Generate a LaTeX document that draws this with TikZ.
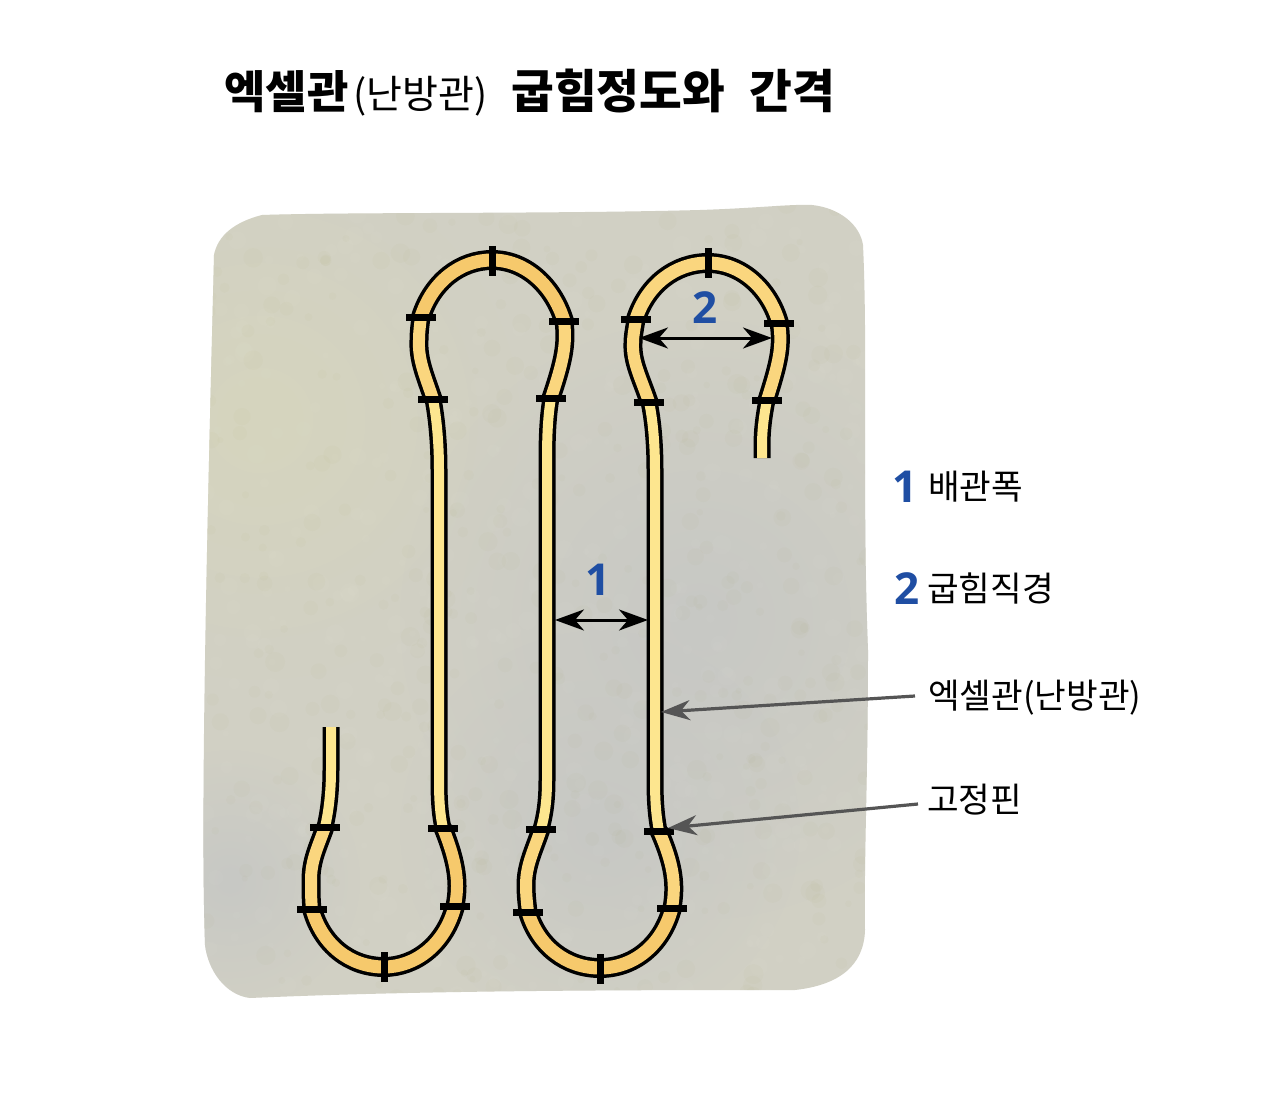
\documentclass[tikz,border=0pt]{standalone}
\usepackage{fontspec}
\setmainfont{Noto Sans CJK KR}
\newfontfamily\titlefont{Noto Sans CJK KR Black}
\newfontfamily\numfont{Open Sans}
\usetikzlibrary{arrows.meta,fadings}
\tikzfading[name=softdisc,inner color=transparent!0,outer color=transparent!100]
\definecolor{blobbase}{HTML}{D1D0C4}
\definecolor{blobdark}{HTML}{C7C8C5}
\definecolor{blobwarm}{HTML}{D6D5BE}
\definecolor{numblue}{HTML}{1F4EA3}
\definecolor{arcfill}{HTML}{F6C96C}
\definecolor{shfill}{HTML}{FAD67E}
\definecolor{strfill}{HTML}{FDE68F}
\definecolor{leadgray}{HTML}{555555}
\tikzset{
  x=1pt,y=-1pt,
  pinmark/.style={black,line width=7pt},
  dimarrow/.style={black,line width=3pt,{Stealth[length=29pt,width=21pt,inset=9pt]}-{Stealth[length=29pt,width=21pt,inset=9pt]}},
  leadarrow/.style={leadgray,line width=3.2pt,-{Stealth[length=29pt,width=20pt,inset=9pt]}},
  label/.style={anchor=west,inner sep=0pt,font=\fontsize{34.4}{34.4}\selectfont},
  numlabel/.style={anchor=center,inner sep=0pt,text=numblue,font=\numfont\bfseries\fontsize{44}{44}\selectfont},
}
\newcommand{\pipelist}{%
\pseg{17}{10}{strfill}{(331,727) -- (331,770) .. controls (331,790) and (329,810) .. (325,827)}
\pseg{19}{12}{shfill}{(325,827) .. controls (318,847) and (311,860) .. (311,880) .. controls (311,890) and (311,900) .. (312,909)}
\pseg{20}{13}{arcfill}{(312,909) .. controls (322,945) and (350,967) .. (384,967) .. controls (415,967) and (445,945) .. (455,906)}
\pseg{19}{12}{arcfill}{(455,906) .. controls (459,885) and (458,865) .. (443,828)}
\pseg{17}{10}{strfill}{(443,828) .. controls (440,815) and (439,800) .. (439,780) -- (439,470) .. controls (439,445) and (437,420) .. (433,399)}
\pseg{19}{12}{shfill}{(433,399) .. controls (425,375) and (418,360) .. (419,340) .. controls (419,332) and (420,325) .. (421,317)}
\pseg{20}{13}{arcfill}{(421,317) .. controls (432,282) and (460,260) .. (492,260) .. controls (525,260) and (553,285) .. (564,321)}
\pseg{19}{12}{shfill}{(564,321) .. controls (567,345) and (563,362) .. (551,398)}
\pseg{17}{10}{strfill}{(551,398) .. controls (548,415) and (547,435) .. (547,460) -- (547,780) .. controls (547,800) and (545,815) .. (541,829)}
\pseg{19}{12}{shfill}{(541,829) .. controls (534,850) and (526,865) .. (526,885) .. controls (526,895) and (527,903) .. (528,912)}
\pseg{20}{13}{arcfill}{(528,912) .. controls (538,946) and (566,968) .. (600,968) .. controls (633,968) and (662,946) .. (672,908)}
\pseg{19}{12}{shfill}{(672,908) .. controls (676,885) and (674,865) .. (659,831)}
\pseg{17}{10}{strfill}{(659,831) .. controls (656,815) and (655,800) .. (655,780) -- (655,470) .. controls (655,445) and (653,420) .. (649,402)}
\pseg{19}{12}{shfill}{(649,402) .. controls (641,378) and (632,362) .. (633,343) .. controls (633,335) and (635,327) .. (636,319)}
\pseg{20}{13}{shfill}{(636,319) .. controls (647,285) and (675,263) .. (708,263) .. controls (741,263) and (769,288) .. (779,323)}
\pseg{19}{12}{shfill}{(779,323) .. controls (783,347) and (778,365) .. (767,400)}
\pseg{17}{10}{strfill}{(767,400) .. controls (764,415) and (762,430) .. (762,445) -- (762,458)}
}
\begin{document}
\begin{tikzpicture}
\useasboundingbox (0,0) rectangle (1280,1102);
\fill[white] (0,0) rectangle (1280,1102);
\begin{scope}
\path[clip] (214,255) .. controls (218,235) and (235,222) .. (262,215) .. controls (350,212) and (550,214) .. (700,210) .. controls (760,208) and (790,204) .. (812,205) .. controls (840,208) and (860,225) .. (863,245) .. controls (868,350) and (862,500) .. (868,650) .. controls (868,780) and (864,850) .. (865,930) .. controls (864,965) and (840,985) .. (795,990) .. controls (650,990) and (430,990) .. (250,998) .. controls (225,995) and (208,970) .. (205,945) .. controls (200,800) and (208,500) .. (214,255) -- cycle;
\fill[blobbase] (190,190) rectangle (880,1010);
\fill[blobwarm,path fading=softdisc] (260,420) circle[radius=260];
\fill[blobdark,path fading=softdisc] (700,620) circle[radius=300];
\fill[blobdark,path fading=softdisc] (600,830) circle[radius=200];
\fill[blobdark,path fading=softdisc] (230,880) circle[radius=130];
\pgfmathsetseed{4711}
\foreach \i in {1,...,900}{
  \pgfmathsetmacro{\px}{200+670*rnd}
  \pgfmathsetmacro{\py}{200+800*rnd}
  \pgfmathsetmacro{\pr}{3+7*rnd}
  \pgfmathsetmacro{\pk}{rnd}
  \ifdim\pk pt<0.5pt
    \fill[white,opacity=.025] (\px,\py) circle[radius=\pr];
  \else
    \fill[olive,opacity=.02] (\px,\py) circle[radius=\pr];
  \fi
}
\end{scope}
% pipe: black casing pass, then coloured core pass
\def\pseg#1#2#3#4{\draw[black,line width=#1pt,line join=round] #4;}
\pipelist
\def\pseg#1#2#3#4{\draw[#3,line width=#2pt,line join=round] #4;}
\pipelist
% fixing pins
\foreach \x/\y in {325/827,312/909,455/906,443/828,433/399,421/317,564/321,551/398,541/829,528/912,672/908,659/831,649/402,636/319,779/323,767/400}
  \draw[pinmark] (\x-15,\y) -- (\x+15,\y);
\foreach \x/\y in {384/967,492/261,600/969,708/263}
  \draw[pinmark] (\x,\y-15) -- (\x,\y+15);
% title
\node[anchor=west,inner sep=0pt] (title) at (224,93) {{\titlefont\fontsize{45}{45}\selectfont 엑셀관}\hspace{5pt}{\fontsize{39}{39}\selectfont (난방관)}\hspace{24pt}{\titlefont\fontsize{46.5}{46.5}\selectfont 굽힘정도와\hspace{24pt}간격}};
% numbers and labels
\node[numlabel] (n2top) at (705,308) {2};
\node[numlabel] (n1mid) at (598,580) {1};
\node[numlabel] (n1key) at (905,487) {1};
\node[numlabel] (n2key) at (907,589) {2};
\node[label] (widthlabel) at (928,487) {배관폭};
\node[label] (bendlabel) at (927,588) {굽힘직경};
\node[label] (pipelabel) at (928,698) {엑셀관(난방관)};
\node[label] (pinlabel) at (927,800) {고정핀};
% dimension arrows
\coordinate (d1a) at (555,620);
\coordinate (d1b) at (648,620);
\coordinate (d2a) at (639,338);
\coordinate (d2b) at (772,338);
\draw[dimarrow] (d1a) -- (d1b);
\draw[dimarrow] (d2a) -- (d2b);
% leaders
\coordinate (pipept) at (661,712);
\coordinate (pinpt) at (668,828);
\draw[leadarrow] (pipelabel.west) ++(-13,-2) -- (pipept);
\draw[leadarrow] (pinlabel.west) ++(-9,4) -- (pinpt);
\end{tikzpicture}
\end{document}
